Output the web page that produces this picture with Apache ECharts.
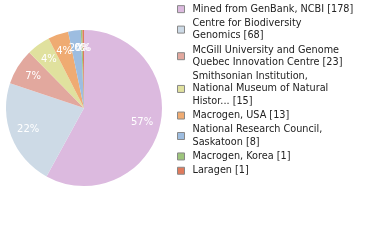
<!DOCTYPE html>
<html><head><meta charset="utf-8">
<script src="https://cdn.jsdelivr.net/npm/echarts@6/dist/echarts.min.js"></script>
<style>html,body{margin:0;padding:0;background:#fff}#c{width:380px;height:240px}</style>
</head><body><div id="c"></div>
<script>
const categories = ["Mined from GenBank, NCBI","Centre for Biodiversity\nGenomics","McGill University and Genome\nQuebec Innovation Centre","Smithsonian Institution,\nNational Museum of Natural\nHistor...","Macrogen, USA","National Research Council,\nSaskatoon","Macrogen, Korea","Laragen"];
const values = [178,68,23,15,13,8,1,1];
const colors = ["#dcbadf","#cddae6","#e2a89e","#e0e19e","#efab72","#9dbde0","#9dc57c","#e07a5c"];

const data = categories.map((n,i)=>({name:n,value:values[i],itemStyle:{color:colors[i]}}));
const chart = echarts.init(document.getElementById('c'),null,{renderer:'canvas'});
chart.setOption({
  animation:false,
  legend:{
    orient:'vertical', left:177, top:3, padding:0, itemWidth:7, itemHeight:7, itemGap:2,
    icon:'rect',
    itemStyle:{borderColor:'#888',borderWidth:1},
    data:categories,
    formatter:function(n){return n+' ['+values[categories.indexOf(n)]+']';},
    textStyle:{fontFamily:'DejaVu Sans',fontSize:9.7,lineHeight:12.3,color:'#222',padding:[0,0,0,3]},
    selectedMode:false
  },
  series:[
    {type:'pie',center:[84,108],radius:[0,78],startAngle:90,clockwise:true,
     data:data,label:{show:false},labelLine:{show:false},silent:true},
    {type:'pie',center:[84,108],radius:[36,78],startAngle:90,clockwise:true,silent:true,
     avoidLabelOverlap:false,
     data:categories.map((n,i)=>({name:n,value:values[i],itemStyle:{color:'rgba(0,0,0,0)'}})),
     label:{show:true,position:'inside',color:'#fff',fontFamily:'DejaVu Sans',fontSize:10,overflow:'none',
       formatter:function(p){return Math.floor(p.percent)+'%';}},
     labelLayout:{hideOverlap:false},
     labelLine:{show:false}}
  ]
});
</script></body></html>
